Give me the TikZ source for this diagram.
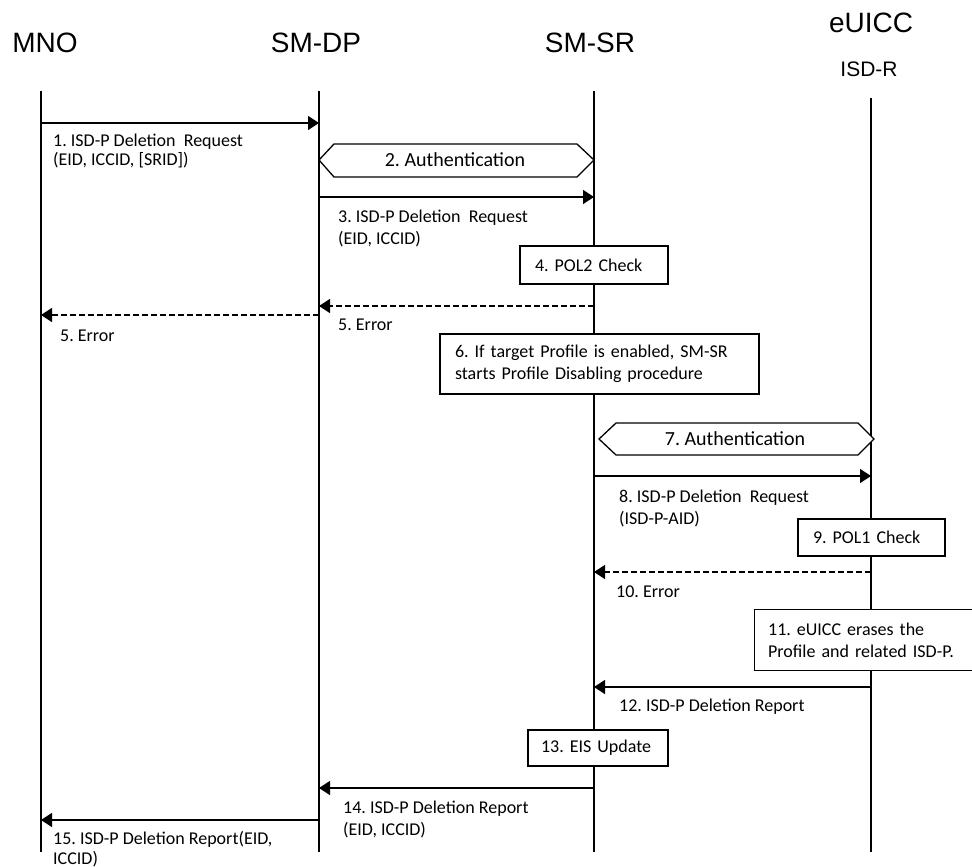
\documentclass[tikz,border=0pt]{standalone}
\usepackage{fontspec}
\setmainfont{Carlito}
\newfontfamily\hdrfont{Liberation Sans}
\usetikzlibrary{arrows.meta}
\frenchspacing
\begin{document}
\begin{tikzpicture}[x=1pt,y=-1pt,
  life/.style={line width=1.2pt},
  msg/.style={line width=1.3pt,-{Triangle[length=11pt,width=14pt]}},
  err/.style={msg,dash pattern=on 6pt off 3pt},
  lbl/.style={anchor=west,align=left,inner sep=0pt,font=\fontsize{18}{22}\selectfont},
  stepbox/.style={draw,line width=1.3pt,fill=white,align=left,inner ysep=0pt,
    font=\fontsize{18}{22}\selectfont},
  hexa/.style={draw,line width=1.3pt,fill=white},
  authtext/.style={font=\fontsize{20}{22}\selectfont},
  hdr/.style={font=\hdrfont\fontsize{28}{32}\selectfont,inner sep=0pt},
  subhdr/.style={font=\hdrfont\fontsize{21}{24}\selectfont,inner sep=0pt}]
\useasboundingbox (0,0) rectangle (972,867);

% headers
\node[hdr] (mno) at (45,43) {MNO};
\node[hdr] (smdp) at (316,43) {SM-DP};
\node[hdr] (smsr) at (590,43) {SM-SR};
\node[hdr] (euicc) at (871,23) {eUICC};
\node[subhdr] (isdr) at (869,69) {ISD-R};

% lifelines
\coordinate (mnoT) at (41,91);  \coordinate (mnoB) at (41,852);
\coordinate (dpT) at (319,91);  \coordinate (dpB) at (319,852);
\coordinate (srT) at (594,91);  \coordinate (srB) at (594,852);
\coordinate (rT) at (871,98);   \coordinate (rB) at (871,852);
\draw[life] (mnoT) -- (mnoB);
\draw[life] (dpT) -- (dpB);
\draw[life] (srT) -- (srB);
\draw[life] (rT) -- (rB);

% 1
\coordinate (m1a) at (41,123); \coordinate (m1b) at (319,123);
\draw[msg] (m1a) -- (m1b);
\node[lbl] (l1) at (53,151) {1. ISD-P Deletion~ Request\\[-3pt](EID, ICCID, [SRID])};

% 2 authentication
\draw[hexa] (319,160) -- (334,144) -- (577,144) -- (594,160) -- (577,177) -- (334,177) -- cycle;
\node[authtext] (a2) at (455,160) {2. Authentication};

% 3
\coordinate (m3a) at (319,197); \coordinate (m3b) at (594,197);
\draw[msg] (m3a) -- (m3b);
\node[lbl] (l3) at (338,228.5) {3. ISD-P Deletion~ Request\\(EID, ICCID)};

% 4
\node[stepbox,minimum width=148pt,minimum height=38pt,text width=118pt,inner xsep=15pt] (b4) at (594,265) {4. POL2 Check};

% 5
\coordinate (m5a) at (594,306); \coordinate (m5b) at (319,306);
\draw[err] (m5a) -- (m5b);
\node[lbl] (l5a) at (338,325) {5. Error};
\coordinate (m5c) at (319,315); \coordinate (m5d) at (41,315);
\draw[err] (m5c) -- (m5d);
\node[lbl] (l5b) at (60,336) {5. Error};

% 6
\node[stepbox,minimum width=319pt,minimum height=60pt,text width=289pt,inner xsep=15pt] (b6) at (599.5,364) {6. If target Profile is enabled, SM-SR\\starts Profile Disabling procedure};

% 7 authentication
\draw[hexa] (599,439) -- (616,423) -- (858,423) -- (874,439) -- (858,455) -- (616,455) -- cycle;
\node[authtext] (a7) at (735,439) {7. Authentication};

% 8
\coordinate (m8a) at (594,476); \coordinate (m8b) at (871,476);
\draw[msg] (m8a) -- (m8b);
\node[lbl] (l8) at (619,508.5) {8. ISD-P Deletion~ Request\\(ISD-P-AID)};

% 9
\node[stepbox,minimum width=147pt,minimum height=37pt,text width=117pt,inner xsep=15pt] (b9) at (871.5,537.5) {9. POL1 Check};

% 10
\coordinate (m10a) at (871,572); \coordinate (m10b) at (594,572);
\draw[err] (m10a) -- (m10b);
\node[lbl] (l10) at (616,592) {10. Error};

% 11
\node[stepbox,anchor=north west,minimum width=222pt,minimum height=61pt,text width=195pt,inner xsep=13pt] (b11) at (754,609) {11. eUICC erases the\\Profile and related ISD-P.};

% 12
\coordinate (m12a) at (871,687); \coordinate (m12b) at (594,687);
\draw[msg] (m12a) -- (m12b);
\node[lbl] (l12) at (619,707) {12. ISD-P Deletion Report};

% 13
\node[stepbox,minimum width=140pt,minimum height=36pt,text width=114pt,inner xsep=13pt] (b13) at (598,748) {13. EIS Update};

% 14
\coordinate (m14a) at (594,788); \coordinate (m14b) at (319,788);
\draw[msg] (m14a) -- (m14b);
\node[lbl] (l14) at (343,819) {14. ISD-P Deletion Report\\(EID, ICCID)};

% 15
\coordinate (m15a) at (319,820); \coordinate (m15b) at (41,820);
\draw[msg] (m15a) -- (m15b);
\node[lbl] (l15) at (53,849) {15. ISD-P Deletion Report(EID,\\[-2pt]ICCID)};
\end{tikzpicture}
\end{document}
